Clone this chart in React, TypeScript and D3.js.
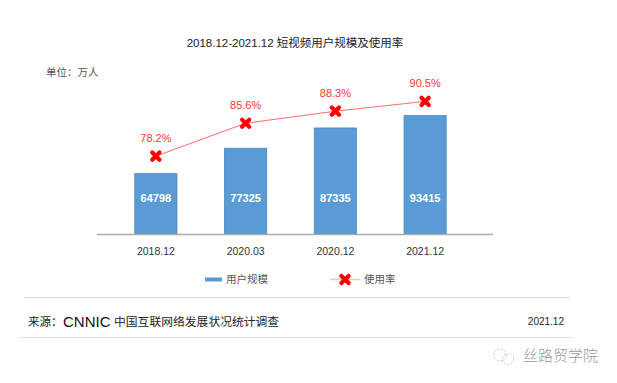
import React from "react";
import * as d3 from "d3";

const categories = ["2018.12", "2020.03", "2020.12", "2021.12"];
const users = [64798, 77325, 87335, 93415];
const rates = [78.2, 85.6, 88.3, 90.5];
const title = "2018.12-2021.12 短视频用户规模及使用率";
const unitLabel = "单位：万人";
const legendBar = "用户规模";
const legendLine = "使用率";
const sourcePrefix = "来源：";
const sourceOrg = "CNNIC";
const sourceName = "中国互联网络发展状况统计调查";
const sourceDate = "2021.12";
const watermark = "丝路贸学院";

const W = 617;
const H = 383;
const baseY = 234;
const font = "'Helvetica Neue', Arial, 'Liberation Sans', 'Noto Sans CJK SC', sans-serif";
const cjk = "'Noto Sans CJK SC', 'Liberation Sans', sans-serif";

export default function App() {
  const x = d3.scaleBand<string>().domain(categories).range([111, 470]).paddingInner(0.53).paddingOuter(0.265);
  const yBar = d3.scaleLinear().domain([35000, 100000]).range([baseY, baseY - 131.7]);
  const yRate = d3.scaleLinear().domain([70, 95]).range([192.6, 81.4]);
  const bw = x.bandwidth();
  const cx = (c: string) => (x(c) as number) + bw / 2;
  const line = d3
    .line<number>()
    .x((_, i) => cx(categories[i]))
    .y((d) => yRate(d));
  const xMark = "M-3.6,-3.6L3.6,3.6M-3.6,3.6L3.6,-3.6";

  return (
    <svg width={W} height={H} style={{ position: "absolute", left: 0, top: 0, background: "#fff" }}>
      <text x={295} y={47} textAnchor="middle" fontSize={11.5} fill="#222" fontFamily={font}>
        {title}
      </text>
      <text x={46} y={76} fontSize={10.5} fill="#555" fontFamily={cjk}>
        {unitLabel}
      </text>

      {categories.map((c, i) => (
        <g key={c}>
          <rect
            x={x(c)}
            y={yBar(users[i])}
            width={bw}
            height={baseY - yBar(users[i])}
            fill="#5b9bd5"
            stroke="#4a87c2"
            strokeWidth={0.8}
          />
          <text x={cx(c)} y={202} textAnchor="middle" fontSize={11} fontWeight="bold" fill="#fff" fontFamily={font}>
            {users[i]}
          </text>
          <text x={cx(c)} y={255} textAnchor="middle" fontSize={10.5} fill="#333" fontFamily={font}>
            {c}
          </text>
        </g>
      ))}

      <line x1={97} x2={493} y1={baseY + 0.5} y2={baseY + 0.5} stroke="#aaa" strokeWidth={1.5} />

      <path d={line(rates) || ""} fill="none" stroke="#ff6b6b" strokeWidth={1} />
      {rates.map((r, i) => (
        <g key={i} transform={`translate(${cx(categories[i])},${yRate(r)})`}>
          <path d={xMark} stroke="#ff0000" strokeWidth={4.2} strokeLinecap="round" />
          <text y={-14} textAnchor="middle" fontSize={11} fill="#ff3333" fontFamily={font}>
            {r.toFixed(1)}%
          </text>
        </g>
      ))}

      {/* legend */}
      <rect x={205} y={277.5} width={17} height={4} fill="#5b9bd5" />
      <text x={226} y={283} fontSize={10.5} fill="#555" fontFamily={cjk}>
        {legendBar}
      </text>
      <line x1={330} x2={360} y1={279.5} y2={279.5} stroke="#f7c6a3" strokeWidth={1.5} />
      <path d={xMark} transform="translate(345,279.5)" stroke="#ff0000" strokeWidth={4.2} strokeLinecap="round" />
      <text x={364} y={283} fontSize={10.5} fill="#555" fontFamily={cjk}>
        {legendLine}
      </text>

      {/* footer */}
      <line x1={25} x2={570} y1={297.5} y2={297.5} stroke="#c5daf0" strokeWidth={1.2} />
      <text x={28} y={326} fontSize={11.5} fill="#222" fontFamily={cjk}>
        {sourcePrefix}
      </text>
      <text x={63} y={326.5} fontSize={15} fill="#111" fontFamily={font}>
        {sourceOrg}
      </text>
      <text x={114} y={326} fontSize={11.8} fill="#222" fontFamily={cjk}>
        {sourceName}
      </text>
      <text x={564} y={325} textAnchor="end" fontSize={10} fill="#222" fontFamily={font}>
        {sourceDate}
      </text>
      <line x1={20} x2={573} y1={337.5} y2={337.5} stroke="#ddd" strokeWidth={1} />

      {/* watermark */}
      <g stroke="#bbb" fill="none" strokeWidth={0.8}>
        <circle cx={500} cy={355} r={6} strokeDasharray="2,1.5" />
        <circle cx={508} cy={359} r={5.5} strokeDasharray="2,1.5" />
      </g>
      <text x={523} y={361} fontSize={15} fill="#999" fontFamily={cjk} fontWeight={300}>
        {watermark}
      </text>
    </svg>
  );
}
